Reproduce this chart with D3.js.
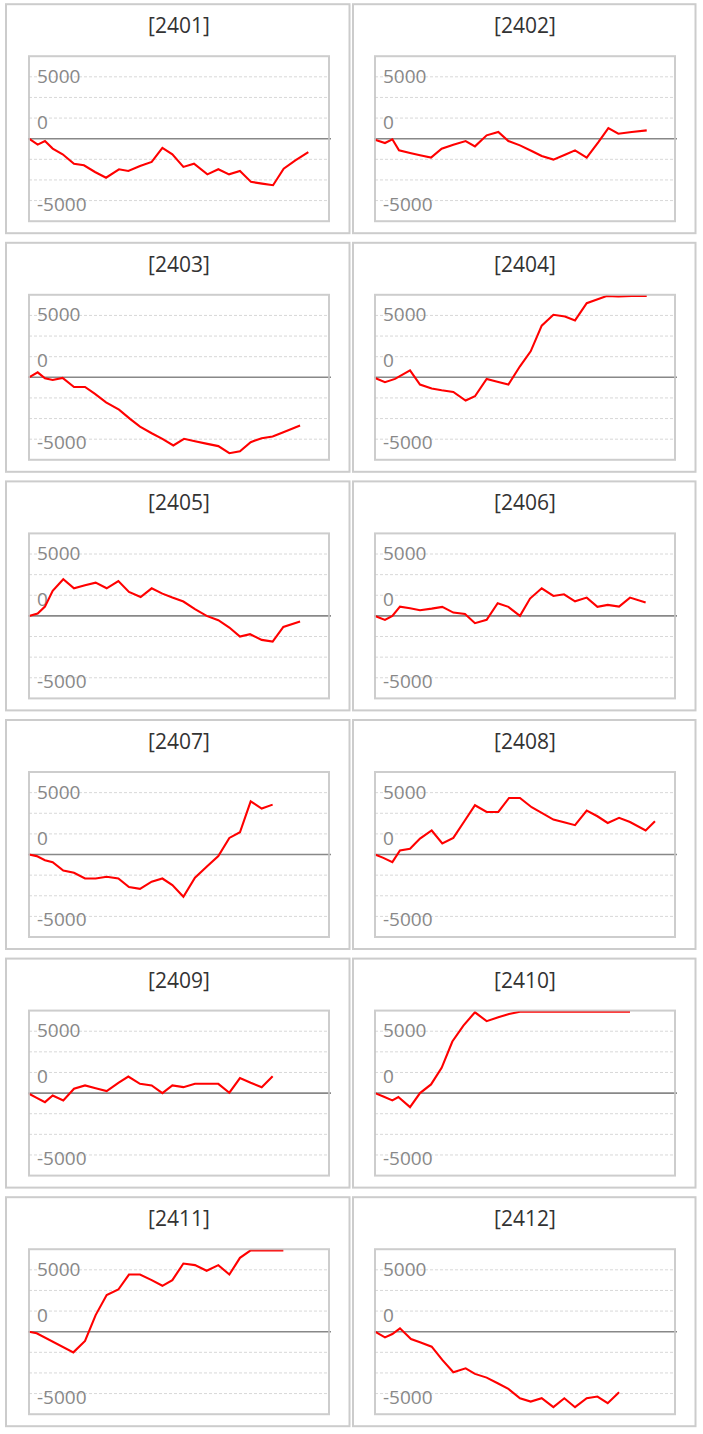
<!DOCTYPE html>
<html><head><meta charset="utf-8">
<script src="https://cdn.jsdelivr.net/npm/d3@7"></script>
<style>html,body{margin:0;padding:0;background:#fff;} svg{display:block;}</style>
</head><body><svg id="c" width="703" height="1434"></svg>
<script>
// ---- data ----
const months = ["2401","2402","2403","2404","2405","2406","2407","2408","2409","2410","2411","2412"];
const yTicks = [5000, 0, -5000];
const yTickLabels = ["5000", "0", "-5000"];

const x2401 = [0,0.81,1.49,2.21,3.14,4.2,5.13,6.16,7.19,8.4,9.27,10.36,11.45,12.45,13.38,14.41,15.4,16.65,17.67,18.67,19.69,20.72,21.75,22.78,23.77,24.86,26.07];
const y2401 = [0,-480,-190,-800,-1260,-2020,-2150,-2690,-3150,-2470,-2610,-2200,-1880,-750,-1260,-2280,-2020,-2880,-2470,-2880,-2610,-3490,-3630,-3760,-2420,-1750,-1080];
const x2402 = [0,0.93,1.62,2.24,3.27,4.2,5.23,6.22,7.31,8.46,9.33,10.42,11.51,12.45,13.53,14.62,15.56,16.65,17.73,18.67,19.76,20.85,21.78,22.71,23.96,25.36];
const y2402 = [-80,-350,-50,-940,-1160,-1340,-1530,-810,-480,-190,-620,270,540,-190,-540,-990,-1400,-1690,-1290,-940,-1530,-270,860,400,540,670];
const x2403 = [0,0.81,1.49,2.21,3.14,4.2,5.23,6.16,7.19,8.4,9.43,10.36,11.45,12.45,13.47,14.47,15.49,16.65,17.67,18.7,19.69,20.69,21.72,22.74,23.74,25.3];
const y2403 = [0,400,-80,-220,-50,-780,-780,-1340,-2020,-2610,-3360,-3980,-4520,-4970,-5510,-4970,-5160,-5380,-5560,-6130,-5970,-5240,-4920,-4790,-4440,-3900];
const x2404 = [0,0.93,1.87,3.27,4.2,5.29,6.22,7.31,8.46,9.33,10.42,11.51,12.45,13.53,14.53,15.56,16.65,17.73,18.67,19.76,20.85,21.62,22.71,23.96,25.36];
const y2404 = [-50,-400,-130,560,-590,-910,-1050,-1180,-1880,-1530,-130,-380,-590,890,2100,4170,5050,4920,4600,5990,6320,6700,6530,6900,7100];
const x2405 = [0,0.81,1.49,2.21,3.2,4.2,5.23,6.22,7.25,8.34,9.33,10.42,11.45,12.45,13.38,14.41,15.49,16.58,17.67,18.7,19.69,20.63,21.72,22.74,23.74,25.3];
const y2405 = [0,190,750,2020,2960,2230,2470,2690,2230,2820,1940,1530,2230,1800,1480,1160,540,0,-350,-940,-1670,-1480,-1940,-2070,-890,-460];
const x2406 = [0,0.93,1.62,2.33,3.27,4.2,5.29,6.28,7.31,8.4,9.33,10.42,11.45,12.45,13.53,14.47,15.56,16.65,17.64,18.67,19.76,20.76,21.72,22.78,23.8,25.26];
const y2406 = [0,-320,0,750,620,460,590,730,270,160,-590,-320,1020,730,0,1400,2230,1610,1750,1180,1480,730,890,750,1480,1080];
const x2407 = [0,0.72,1.49,2.21,3.2,4.2,5.23,6.22,7.25,8.34,9.33,10.36,11.45,12.45,13.38,14.41,15.49,16.58,17.67,18.7,19.69,20.69,21.72,22.74];
const y2407 = [0,-130,-460,-620,-1290,-1480,-1940,-1940,-1800,-1940,-2630,-2770,-2200,-1940,-2470,-3410,-1880,-990,-130,1340,1800,4300,3710,4030];
const x2408 = [0,0.78,1.62,2.33,3.27,4.2,5.29,6.28,7.31,8.34,9.33,10.42,11.51,12.51,13.53,14.62,15.56,16.65,17.64,18.67,19.76,20.76,21.72,22.78,23.8,25.26,26.13];
const y2408 = [0,-270,-620,320,460,1290,1940,890,1340,2690,3980,3440,3440,4570,4570,3820,3360,2820,2610,2370,3550,3090,2550,2960,2630,1940,2690];
const x2409 = [0,0.72,1.49,2.21,3.2,4.2,5.23,6.22,7.25,8.34,9.27,10.36,11.45,12.45,13.38,14.41,15.49,16.58,17.67,18.7,19.69,20.69,21.72,22.74];
const y2409 = [-50,-380,-730,-190,-590,350,620,400,160,830,1340,750,620,0,620,480,750,750,750,30,1210,830,480,1370];
const x2410 = [0,0.78,1.62,2.18,3.27,4.2,5.23,6.22,7.22,8.25,9.33,10.42,11.51,12.51,13.53,14.6,15.6,16.6,17.7,18.7,19.8,20.8,21.8,22.8,23.8];
const y2410 = [0,-270,-590,-320,-1130,0,700,2040,4170,5460,6530,5810,6130,6400,6670,7200,7600,7400,7900,8200,8000,8400,8700,8500,8900];
const x2411 = [0,0.72,4.14,5.23,6.22,7.25,8.34,9.33,10.36,11.45,12.45,13.38,14.41,15.49,16.58,17.67,18.7,19.69,20.69,21.72,22.74,23.74];
const y2411 = [0,-130,-1670,-750,1340,2960,3410,4620,4620,4170,3710,4170,5510,5380,4920,5380,4620,5970,6640,7100,7400,7300];
const x2412 = [0,0.93,1.62,2.33,3.36,4.2,5.29,6.28,7.31,8.46,9.33,10.42,11.45,12.45,13.53,14.53,15.56,16.65,17.67,18.67,19.76,20.76,21.72,22.78];
const y2412 = [0,-460,-190,270,-590,-860,-1210,-2280,-3280,-2960,-3410,-3710,-4170,-4620,-5380,-5650,-5380,-6100,-5380,-6100,-5380,-5240,-5780,-4890];

const xsAll = [x2401,x2402,x2403,x2404,x2405,x2406,x2407,x2408,x2409,x2410,x2411,x2412];
const ysAll = [y2401,y2402,y2403,y2404,y2405,y2406,y2407,y2408,y2409,y2410,y2411,y2412];

// ---- layout ----
const svg = d3.select("#c");
const colLeft = [6, 353], colRight = [349.5, 695.5];
const plotLeftCol = [29, 375];
const plotW = 300, plotH = 165;
const rowPitch = 238.6, firstTop = 4.2, panelH = 229;
const STEP = 5000 / 3;

const x = d3.scaleLinear().domain([0, 28]).range([0, plotW]);
const y = d3.scaleLinear().domain([-4 * STEP, 4 * STEP]).range([plotH, 0]).clamp(true);
const gridVals = d3.range(-3, 4).filter(k => k !== 0).map(k => k * STEP);
const labelShift = {"5000": -1, "0": -17, "-5000": 3};

months.forEach((m, i) => {
  const col = i % 2, row = Math.floor(i / 2);
  const top = firstTop + row * rowPitch;
  const g = svg.append("g");
  g.append("rect")
    .attr("x", colLeft[col]).attr("y", top)
    .attr("width", colRight[col] - colLeft[col]).attr("height", panelH)
    .attr("fill", "none").attr("stroke", "#cccccc").attr("stroke-width", 2);
  const px = plotLeftCol[col], py = top + 52;
  g.append("text")
    .attr("x", px + plotW / 2).attr("y", top + 29)
    .attr("text-anchor", "middle")
    .attr("font-family", "'Open Sans', 'Noto Sans', sans-serif")
    .attr("font-size", 21).attr("fill", "#333")
    .text("[" + m + "]");

  const p = g.append("g").attr("transform", `translate(${px},${py})`);
  p.selectAll("line.grid").data(gridVals).join("line")
    .attr("class", "grid")
    .attr("x1", 0).attr("x2", plotW)
    .attr("y1", d => y(d)).attr("y2", d => y(d))
    .attr("stroke", "#d8d8d8").attr("stroke-width", 1)
    .attr("stroke-dasharray", "3,2");
  p.append("line")
    .attr("x1", -1).attr("x2", plotW + 2)
    .attr("y1", y(0)).attr("y2", y(0))
    .attr("stroke", "#888").attr("stroke-width", 1.6);
  p.selectAll("text.lab").data(yTicks).join("text")
    .attr("class", "lab")
    .attr("x", 8)
    .attr("y", (d, j) => y(d) + labelShift[yTickLabels[j]])
    .attr("dominant-baseline", "central")
    .attr("font-family", "'Open Sans', 'Noto Sans', sans-serif")
    .attr("font-size", 19).attr("fill", "#888")
    .text((d, j) => yTickLabels[j]);
  const xs = xsAll[i];
  const line = d3.line()
    .x((d, j) => x(xs[j]))
    .y(d => Math.max(y(d), 1.2));
  p.append("path")
    .datum(ysAll[i])
    .attr("d", line)
    .attr("fill", "none").attr("stroke", "#ff0000")
    .attr("stroke-width", 2.1).attr("stroke-linejoin", "miter");
  p.append("rect")
    .attr("x", 0).attr("y", 0).attr("width", plotW).attr("height", plotH)
    .attr("fill", "none").attr("stroke", "#c4c4c4").attr("stroke-width", 2)
    .attr("stroke-opacity", 0.85);
});
</script>
</body></html>
